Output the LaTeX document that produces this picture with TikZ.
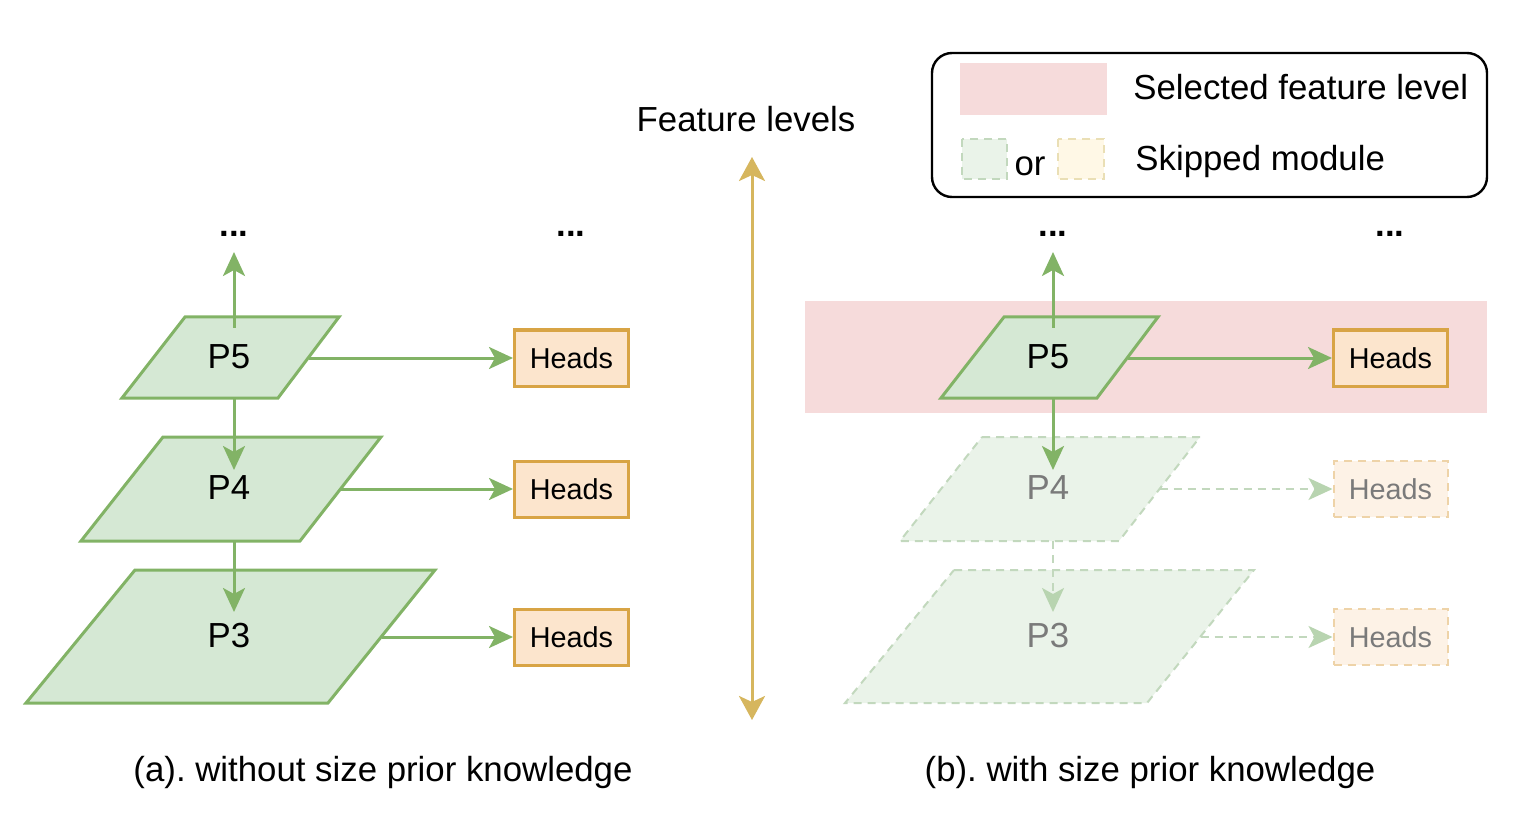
\documentclass[tikz,border=0pt]{standalone}
\usepackage{fontspec}
\setmainfont{Liberation Sans}
\usetikzlibrary{arrows.meta}
\definecolor{gfill}{HTML}{D5E8D4}
\definecolor{gline}{HTML}{82B366}
\definecolor{gfillf}{HTML}{EAF3E9}
\definecolor{glinef}{HTML}{C2D8BD}
\definecolor{ofill}{HTML}{FCE5CD}
\definecolor{oline}{HTML}{D8A445}
\definecolor{ofillf}{HTML}{FDF2E6}
\definecolor{olinef}{HTML}{EED3A8}
\definecolor{pinkband}{HTML}{F6DBDB}
\definecolor{gold}{HTML}{D6B65E}
\definecolor{fadetext}{HTML}{7A7A7A}
\definecolor{arrhead}{HTML}{B8D4B0}
\definecolor{yfillf}{HTML}{FFF8E6}
\definecolor{ylinef}{HTML}{EADFB5}
\frenchspacing
\begin{document}
\begin{tikzpicture}[x=0.5pt,y=-0.5pt,
  lvl/.style={fill=gfill,draw=gline,line width=1.5pt,line join=miter},
  lvlf/.style={fill=gfillf,draw=glinef,line width=1pt,dash pattern=on 4pt off 3pt},
  lbl/.style={inner sep=0pt,font=\fontsize{17.4}{20}\selectfont},
  lblf/.style={lbl,text=fadetext},
  heads/.style={draw=oline,fill=ofill,line width=1.5pt,minimum width=57pt,minimum height=28pt,inner sep=0pt,font=\fontsize{14.4}{17}\selectfont},
  headsf/.style={heads,draw=olinef,fill=ofillf,line width=1pt,dash pattern=on 4pt off 3pt,text=fadetext},
  arr/.style={draw=gline,line width=1.5pt,-{Stealth[length=12pt,width=11pt,inset=3pt]}},
  arrf/.style={draw=glinef,line width=1pt,dash pattern=on 4pt off 3pt,-{Stealth[length=12pt,width=11pt,inset=3pt,fill=arrhead,color=arrhead]}},
  dots/.style={inner sep=0pt,anchor=base,font=\fontsize{17.4}{20}\selectfont\bfseries},
  txt/.style={inner sep=0pt,font=\fontsize{17.4}{20}\selectfont}
]
\useasboundingbox (0,0) rectangle (1526,834);

% ---------------- left panel ----------------
\node[dots] (dA1) at (234,237) {...};
\node[dots] (dA2) at (571,237) {...};

\draw[lvl] (135,570) -- (435,570) -- (328,703) -- (26,703) -- cycle;
\draw[lvl] (163,437) -- (381,437) -- (300,541) -- (81,541) -- cycle;
\draw[lvl] (185,317) -- (339,317) -- (278,398) -- (122,398) -- cycle;
\node[lbl] (P5a) at (229,357) {P5};
\node[lbl] (P4a) at (229,488) {P4};
\node[lbl] (P3a) at (229,636) {P3};

\coordinate (P5ar) at (308.5,358);
\coordinate (P4ar) at (340.5,489);
\coordinate (P3ar) at (381.5,637);
\coordinate (P5atop) at (234,328);
\coordinate (upA) at (234,252);
\coordinate (P5abot) at (234,398);
\coordinate (P4ain) at (234,470);
\coordinate (P4abot) at (234,541);
\coordinate (P3ain) at (234,612);

\node[heads] (H5a) at (571.5,358) {Heads};
\node[heads] (H4a) at (571.5,489) {Heads};
\node[heads] (H3a) at (571.5,637) {Heads};

\draw[arr] (P5atop) -- (upA);
\draw[arr] (P5abot) -- (P4ain);
\draw[arr] (P4abot) -- (P3ain);
\draw[arr] (P5ar) -- (H5a.west);
\draw[arr] (P4ar) -- (H4a.west);
\draw[arr] (P3ar) -- (H3a.west);

\node[txt,anchor=base] (capA) at (383,781) {(a). without size prior knowledge};

% ---------------- middle ----------------
\node[txt,anchor=base] (flbl) at (746,132) {Feature levels};
\coordinate (ftop) at (752,157);
\coordinate (fbot) at (752,720);
\draw[gold,line width=1.5pt,{Stealth[length=12pt,width=13pt,inset=3pt]}-{Stealth[length=12pt,width=13pt,inset=3pt]}] (ftop) -- (fbot);

% ---------------- legend ----------------
\draw[line width=1.2pt,rounded corners=10pt] (932,53) rectangle (1487,197);
\fill[pinkband] (960,63) rectangle (1107,115);
\draw[fill=gfillf,draw=glinef,line width=1pt,dash pattern=on 4pt off 3pt] (962,139) rectangle (1007,179);
\draw[fill=yfillf,draw=ylinef,line width=1pt,dash pattern=on 4pt off 3pt] (1058,139) rectangle (1104,179);
\node[txt,anchor=base] (orl) at (1030,176) {or};
\node[txt,anchor=base west] (sel) at (1133,100) {Selected feature level};
\node[txt,anchor=base west] (skp) at (1135,171) {Skipped module};

% ---------------- right panel ----------------
\fill[pinkband] (805,301) rectangle (1487,413);
\node[dots] (dB1) at (1053,237) {...};
\node[dots] (dB2) at (1390,237) {...};

\draw[lvlf] (954,570) -- (1254,570) -- (1147,703) -- (845,703) -- cycle;
\draw[lvlf] (982,437) -- (1200,437) -- (1119,541) -- (900,541) -- cycle;
\draw[lvl] (1004,317) -- (1158,317) -- (1097,398) -- (941,398) -- cycle;
\node[lbl] (P5b) at (1048,357) {P5};
\node[lblf] (P4b) at (1048,488) {P4};
\node[lblf] (P3b) at (1048,636) {P3};

\coordinate (P5br) at (1127.5,358);
\coordinate (P4br) at (1159.5,489);
\coordinate (P3br) at (1200.5,637);
\coordinate (P5btop) at (1053,328);
\coordinate (upB) at (1053,252);
\coordinate (P5bbot) at (1053,398);
\coordinate (P4bin) at (1053,470);
\coordinate (P4bbot) at (1053,541);
\coordinate (P3bin) at (1053,612);

\node[heads] (H5b) at (1390.5,358) {Heads};
\node[headsf] (H4b) at (1390.5,489) {Heads};
\node[headsf] (H3b) at (1390.5,637) {Heads};

\draw[arr] (P5btop) -- (upB);
\draw[arr] (P5bbot) -- (P4bin);
\draw[arrf] (P4bbot) -- (P3bin);
\draw[arr] (P5br) -- (H5b.west);
\draw[arrf] (P4br) -- (H4b.west);
\draw[arrf] (P3br) -- (H3b.west);

\node[txt,anchor=base] (capB) at (1150,781) {(b). with size prior knowledge};
\end{tikzpicture}
\end{document}
